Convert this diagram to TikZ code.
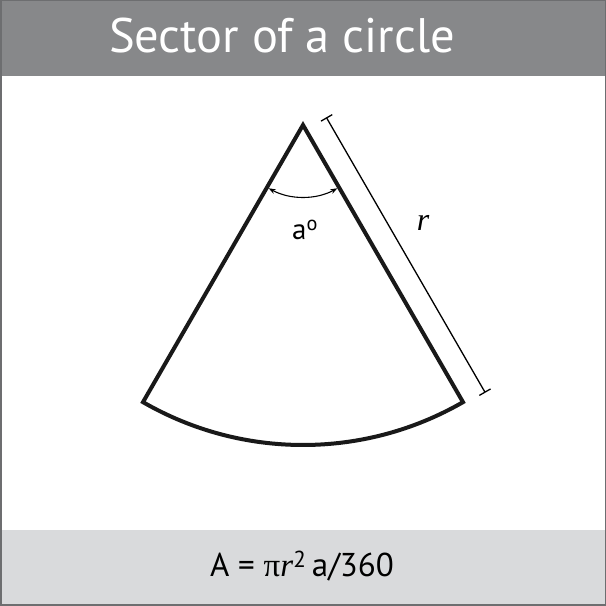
\documentclass[tikz,border=0pt]{standalone}
\usepackage{fontspec}
\setmainfont{PT Sans}
\newfontfamily\serifface{Liberation Serif}
\usetikzlibrary{arrows.meta,calc}
\definecolor{bannergray}{HTML}{87888A}
\definecolor{footgray}{HTML}{D9DADC}
\definecolor{framegray}{HTML}{6D6E70}
\tikzset{
  sectorline/.style={line width=4pt, line join=miter, draw=black!90},
  dimline/.style={line width=1.3pt, {Bar[width=13pt]}-{Bar[width=13pt]}},
  angline/.style={line width=1.1pt, {Stealth[length=7pt,width=5pt]}-{Stealth[length=7pt,width=5pt]}},
}
\begin{document}
\begin{tikzpicture}[x=1pt,y=1pt]
\useasboundingbox (0,0) rectangle (606,606);
\fill[white] (0,0) rectangle (606,606);
\fill[bannergray] (0,530) rectangle (606,606);
\fill[footgray] (0,0) rectangle (606,76);
\draw[framegray, line width=1.5pt] (0.75,0.75) rectangle (605.25,605.25);
\node[text=white, font=\fontsize{48.5}{48.5}\selectfont, anchor=base] (title) at (282,553) {Sector of a circle};
\node[font=\fontsize{33}{33}\selectfont, anchor=base] (formula) at (302,29)
  {A = {\serifface π\textit{r}}\textsuperscript{2}\,a/360};
\coordinate (O) at (303,481);
\draw[sectorline] (O) -- ++(240:320) arc[start angle=240, end angle=300, radius=320] -- cycle;
\coordinate (d1) at ($(O)+(30:24)+(300:5)$);
\coordinate (d2) at ($(O)+(30:24)+(300:323)$);
\draw[dimline] (d1) -- (d2);
\coordinate (a1) at ($(O)+(241.5:72)$);
\draw[angline] (a1) arc[start angle=241.5, end angle=298.5, radius=72];
\node[font=\fontsize{29}{29}\selectfont] (alabel) at (305,376) {a\textsuperscript{o}};
\node[font=\fontsize{32}{32}\selectfont\serifface\itshape] (rlabel) at (423,383) {r};
\end{tikzpicture}
\end{document}
